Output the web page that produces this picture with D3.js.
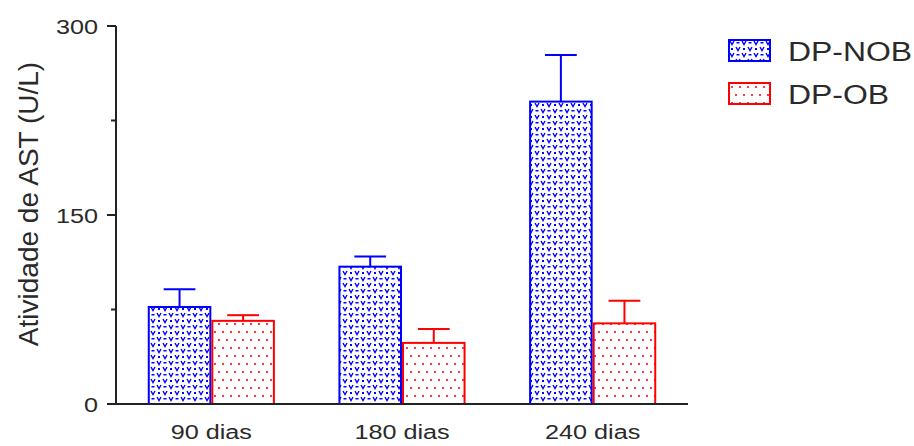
<!DOCTYPE html>
<html>
<head>
<meta charset="utf-8">
<script src="https://cdn.jsdelivr.net/npm/d3@7"></script>
<style>
  body { margin: 0; background: #fff; }
  text { font-family: "Liberation Sans", Arial, sans-serif; fill: #2a2a2a; }
</style>
</head>
<body>
<svg width="914" height="446"></svg>
<script>
// data
const groups = ["90 dias", "180 dias", "240 dias"];
const series = ["DP-NOB", "DP-OB"];
const means = {
    "DP-NOB": [77, 109, 240],
    "DP-OB": [66, 48.5, 64]
};
const errors = {
    "DP-NOB": [14, 8, 37],
    "DP-OB": [4.5, 11, 18]
};
const yTicks = [0, 150, 300];
const yMinor = [75, 225];

const colours = { "DP-NOB": "#0000ff", "DP-OB": "#ff0000" };
const patterns = { "DP-NOB": "url(#pNob)", "DP-OB": "url(#pOb)" };

// the original text is drawn a bit wider than normal
const stretch = 1.2;

let svg = d3.select("svg");

let defs = svg.append("defs");

// blue "v" texture
let pNob = defs.append("pattern")
    .attr("id", "pNob")
    .attr("patternUnits", "userSpaceOnUse")
    .attr("width", 12)
    .attr("height", 12);
pNob.append("rect").attr("width", 12).attr("height", 12).attr("fill", "#fff");
pNob.append("path")
    .attr("d", "M1,1 L3,4.5 L5,1 M7,7 L9,10.5 L11,7")
    .attr("stroke", "#0000ff").attr("stroke-width", 1.4).attr("fill", "none");
pNob.append("rect").attr("x", 7.5).attr("y", 2).attr("width", 3).attr("height", 1.5).attr("fill", "#0000ff");
pNob.append("rect").attr("x", 2).attr("y", 8).attr("width", 2).attr("height", 2).attr("fill", "#0000ff");

// red sparse dots
let pOb = defs.append("pattern")
    .attr("id", "pOb")
    .attr("patternUnits", "userSpaceOnUse")
    .attr("width", 8)
    .attr("height", 16);
pOb.append("rect").attr("width", 8).attr("height", 16).attr("fill", "#fff");
[[3, 4], [7, 12]].forEach(function (p) {
    pOb.append("rect")
        .attr("x", p[0] - 1).attr("y", p[1] - 1)
        .attr("width", 2).attr("height", 2)
        .attr("fill", "#ff3b3b");
});

let y = d3.scaleLinear().domain([0, 300]).range([404, 26]);
let x0 = d3.scaleBand().domain(groups).range([116, 688])
    .paddingInner(1 / 3).paddingOuter(1 / 6);
let x1 = d3.scaleBand().domain(series).range([0, x0.bandwidth()]);

// bars
let g = svg.append("g");
series.forEach(function (s) {
    let rows = groups.map(function (gr, i) {
        return { group: gr, mean: means[s][i], err: errors[s][i] };
    });
    let bars = g.append("g").selectAll("g")
        .data(rows)
        .join("g");

    // error bars (upper only)
    bars.append("line")
        .attr("x1", d => x0(d.group) + x1(s) + x1.bandwidth() / 2)
        .attr("x2", d => x0(d.group) + x1(s) + x1.bandwidth() / 2)
        .attr("y1", d => y(d.mean))
        .attr("y2", d => y(d.mean + d.err))
        .attr("stroke", colours[s]).attr("stroke-width", 2);
    bars.append("line")
        .attr("x1", d => x0(d.group) + x1(s) + x1.bandwidth() / 4)
        .attr("x2", d => x0(d.group) + x1(s) + x1.bandwidth() * 3 / 4)
        .attr("y1", d => y(d.mean + d.err))
        .attr("y2", d => y(d.mean + d.err))
        .attr("stroke", colours[s]).attr("stroke-width", 2);

    bars.append("rect")
        .attr("x", d => x0(d.group) + x1(s) + 1)
        .attr("y", d => y(d.mean))
        .attr("width", x1.bandwidth() - 2)
        .attr("height", d => y(0) - y(d.mean))
        .attr("fill", patterns[s])
        .attr("stroke", colours[s])
        .attr("stroke-width", 2);
});

// y axis
let yAxis = svg.append("g").attr("transform", "translate(116,0)");
yAxis.append("line")
    .attr("y1", y(300)).attr("y2", y(0))
    .attr("stroke", "#222").attr("stroke-width", 2);
yAxis.selectAll(".major").data(yTicks).join("line")
    .attr("x1", -9).attr("x2", 0)
    .attr("y1", d => y(d)).attr("y2", d => y(d))
    .attr("stroke", "#222").attr("stroke-width", 2);
yAxis.selectAll(".minor").data(yMinor).join("line")
    .attr("x1", -5).attr("x2", 0)
    .attr("y1", d => y(d)).attr("y2", d => y(d))
    .attr("stroke", "#222").attr("stroke-width", 2);
yAxis.selectAll("text").data(yTicks).join("text")
    .attr("transform", d => "translate(-18," + y(d) + ") scale(" + stretch + ",1)")
    .attr("dy", "0.36em")
    .attr("text-anchor", "end")
    .attr("font-size", 21)
    .text(d => d);

// x axis
svg.append("line")
    .attr("x1", 115).attr("x2", 688)
    .attr("y1", y(0)).attr("y2", y(0))
    .attr("stroke", "#222").attr("stroke-width", 2);
svg.append("g").selectAll("text").data(groups).join("text")
    .attr("transform", d => "translate(" + (x0(d) + x0.bandwidth() / 2) + ",439) scale(" + stretch + ",1)")
    .attr("text-anchor", "middle")
    .attr("font-size", 21)
    .text(d => d);

// y label
svg.append("text")
    .attr("transform", "translate(38,204) rotate(-90)")
    .attr("text-anchor", "middle")
    .attr("font-size", 28)
    .text("Atividade de AST (U/L)");

// legend
let legend = svg.append("g").selectAll("g")
    .data(series)
    .join("g")
    .attr("transform", (d, i) => "translate(729," + (40 + i * 43) + ")");
legend.append("rect")
    .attr("width", 41).attr("height", 21)
    .attr("fill", d => patterns[d])
    .attr("stroke", d => colours[d])
    .attr("stroke-width", 2);
legend.append("text")
    .attr("transform", "translate(59,21) scale(1.14,1)")
    .attr("font-size", 28)
    .text(d => d);
</script>
</body>
</html>
